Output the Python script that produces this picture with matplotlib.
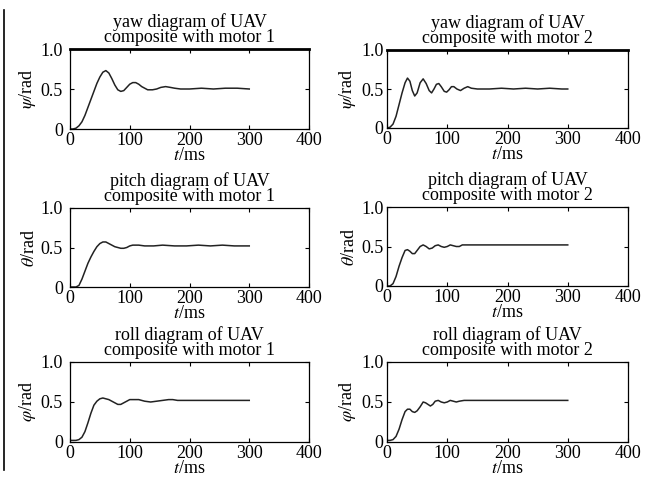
"""UAV attitude step responses, composite with motor 1 / motor 2."""

import matplotlib
matplotlib.use("Agg")
import matplotlib.pyplot as plt
from matplotlib.lines import Line2D

plt.rcParams["font.family"] = ["Liberation Serif", "DejaVu Serif"]
plt.rcParams["mathtext.fontset"] = "stix"

# time (ms) and response (rad)
yaw1_t = [0, 5, 10, 15, 20, 25, 30, 35, 40, 45, 50, 55, 60, 65, 70, 75, 80, 85, 90,
          95, 100, 105, 110, 115, 120, 125, 130, 138, 145, 152, 160, 168, 175, 185,
          200, 220, 240, 260, 280, 300]
yaw1_y = [0.0, 0.0, 0.01, 0.04, 0.09, 0.17, 0.27, 0.37, 0.47, 0.57, 0.65, 0.71, 0.73,
          0.70, 0.63, 0.55, 0.49, 0.47, 0.48, 0.52, 0.56, 0.58, 0.58, 0.56, 0.53,
          0.51, 0.49, 0.49, 0.50, 0.52, 0.53, 0.52, 0.51, 0.50, 0.50, 0.51, 0.50,
          0.51, 0.51, 0.50]

yaw2_t = [0, 5, 10, 15, 20, 25, 30, 34, 38, 42, 46, 50, 55, 60, 65, 70, 74, 78, 82,
          86, 90, 95, 99, 103, 107, 111, 116, 122, 128, 134, 140, 150, 170, 190,
          210, 230, 250, 270, 290, 300]
yaw2_y = [0.0, 0.01, 0.05, 0.15, 0.30, 0.45, 0.58, 0.64, 0.60, 0.48, 0.41, 0.45,
          0.58, 0.63, 0.57, 0.48, 0.45, 0.50, 0.56, 0.57, 0.53, 0.47, 0.46, 0.49,
          0.53, 0.53, 0.50, 0.48, 0.51, 0.53, 0.51, 0.50, 0.50, 0.51, 0.50, 0.51,
          0.50, 0.51, 0.50, 0.50]

pitch1_t = [0, 5, 10, 15, 20, 25, 30, 35, 40, 45, 50, 55, 60, 65, 70, 75, 80, 85, 90,
            95, 100, 105, 115, 125, 140, 155, 175, 195, 215, 235, 255, 275, 300]
pitch1_y = [0.0, 0.0, 0.0, 0.02, 0.10, 0.20, 0.30, 0.38, 0.45, 0.51, 0.55, 0.57,
            0.57, 0.55, 0.53, 0.51, 0.50, 0.49, 0.49, 0.50, 0.52, 0.53, 0.53, 0.52,
            0.52, 0.53, 0.52, 0.52, 0.53, 0.52, 0.53, 0.52, 0.52]

pitch2_t = [0, 5, 10, 15, 20, 25, 30, 34, 38, 42, 46, 50, 55, 60, 65, 70, 75, 80,
            85, 90, 95, 100, 105, 110, 115, 120, 125, 130, 150, 200, 250, 300]
pitch2_y = [0.0, 0.0, 0.03, 0.12, 0.25, 0.36, 0.45, 0.46, 0.44, 0.41, 0.41, 0.45,
            0.50, 0.52, 0.50, 0.47, 0.48, 0.51, 0.52, 0.50, 0.49, 0.50, 0.52, 0.51,
            0.50, 0.50, 0.52, 0.52, 0.52, 0.52, 0.52, 0.52]

roll1_t = [0, 5, 10, 15, 20, 25, 30, 35, 40, 45, 50, 55, 60, 65, 70, 75, 80, 85, 90,
           95, 100, 105, 115, 125, 135, 145, 155, 165, 172, 180, 200, 250, 300]
roll1_y = [0.02, 0.02, 0.02, 0.03, 0.06, 0.13, 0.24, 0.36, 0.46, 0.51, 0.54, 0.55,
           0.54, 0.53, 0.51, 0.49, 0.47, 0.47, 0.49, 0.51, 0.53, 0.53, 0.53, 0.51,
           0.50, 0.51, 0.52, 0.53, 0.53, 0.52, 0.52, 0.52, 0.52]

roll2_t = [0, 5, 10, 15, 20, 25, 30, 34, 38, 42, 46, 50, 55, 60, 64, 68, 72, 76,
           80, 85, 90, 95, 100, 105, 110, 115, 120, 128, 150, 200, 250, 300]
roll2_y = [0.02, 0.02, 0.03, 0.07, 0.16, 0.28, 0.38, 0.41, 0.41, 0.38, 0.37, 0.39,
           0.44, 0.50, 0.49, 0.47, 0.45, 0.47, 0.51, 0.52, 0.50, 0.49, 0.50, 0.52,
           0.51, 0.50, 0.51, 0.52, 0.52, 0.52, 0.52, 0.52]

titles = [
    "yaw diagram of UAV\ncomposite with motor 1",
    "yaw diagram of UAV\ncomposite with motor 2",
    "pitch diagram of UAV\ncomposite with motor 1",
    "pitch diagram of UAV\ncomposite with motor 2",
    "roll diagram of UAV\ncomposite with motor 1",
    "roll diagram of UAV\ncomposite with motor 2",
]
ylabels = [r"$\psi$/rad", r"$\psi$/rad", r"$\theta$/rad", r"$\theta$/rad",
           r"$\varphi$/rad", r"$\varphi$/rad"]
series = [(yaw1_t, yaw1_y), (yaw2_t, yaw2_y), (pitch1_t, pitch1_y),
          (pitch2_t, pitch2_y), (roll1_t, roll1_y), (roll2_t, roll2_y)]

W, H = 648, 483
fig = plt.figure(figsize=(W / 100, H / 100), dpi=100)

# axes boxes in pixels: (left, top, right, bottom)
boxes = [
    (70, 49, 309, 129), (387, 50, 628, 128),
    (70, 208, 309, 287), (387, 207, 628, 286),
    (70, 362, 309, 442), (387, 362, 628, 442),
]

for i, (l, t, r, b) in enumerate(boxes):
    ax = fig.add_axes([l / W, 1 - b / H, (r - l) / W, (b - t) / H])
    x, y = series[i]
    ax.plot(x, y, color="#222222", linewidth=1.1)
    ax.set_xlim(0, 400)
    ax.set_ylim(0, 1.0)
    ax.set_xticks([0, 100, 200, 300, 400])
    ax.set_yticks([0, 0.5, 1.0])
    ax.set_yticklabels(["0", "0.5", "1.0"])
    ax.tick_params(direction="in", top=True, right=True, length=3,
                   labelsize=13)
    ax.tick_params(axis="x", pad=2)
    ax.tick_params(axis="y", pad=5 if i % 2 == 0 else 2.5)
    for s in ax.spines.values():
        s.set_linewidth(0.9)
    if i < 2:
        ax.spines["top"].set_linewidth(2.0)
    ax.set_title(titles[i], fontsize=13, linespacing=0.82, pad=5)
    ax.set_xlabel(r"$t$/ms", fontsize=13, labelpad=-1)
    ax.set_ylabel(ylabels[i], fontsize=13, labelpad=2)

# scan edge line on the left margin
fig.add_artist(Line2D([4 / W, 4 / W], [1 - 10 / H, 1 - 470 / H],
                      color="black", linewidth=1.2))

fig.savefig("out.png", dpi=100)
